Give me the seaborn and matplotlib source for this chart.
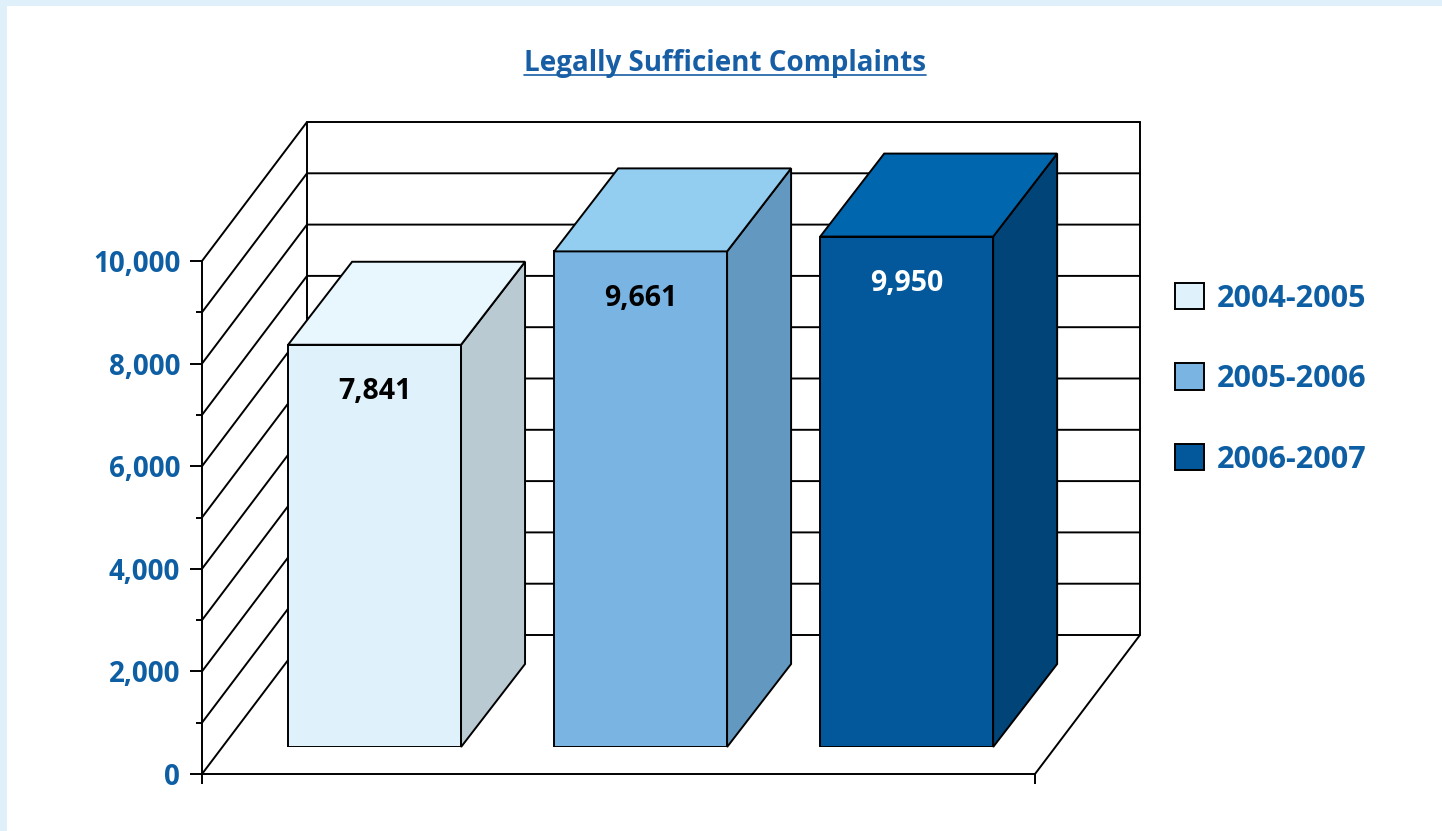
import pandas as pd
import seaborn as sns
import matplotlib.pyplot as plt
import matplotlib.patches as mpatches
from matplotlib.lines import Line2D

# values
periods = ['2004-2005', '2005-2006', '2006-2007']
complaints = [7841, 9661, 9950]
label_colors = ['black', 'black', 'white']

front_colors = ['#dff1fb', '#7ab4e2', '#03589b']
side_colors = ['#b9cad3', '#6399c0', '#014478']
top_colors = ['#e8f6fd', '#93cdf0', '#0066ae']

ytick_values = [0, 2000, 4000, 6000, 8000, 10000]
ytick_labels = ['0', '2,000', '4,000', '6,000', '8,000', '10,000']

title = 'Legally Sufficient Complaints'
blue_text = '#0d5ea3'

sns.set_style('white')
plt.rcParams['font.family'] = ['Open Sans', 'DejaVu Sans']

W, H = 1442, 831
fig = plt.figure(figsize=(W / 100, H / 100), dpi=100)
fig.patch.set_facecolor('#dff0fb')
fig.add_artist(mpatches.Rectangle((7 / W, 0), 1, 1 - 6 / H, transform=fig.transFigure,
                                  facecolor='white', edgecolor='none', zorder=-1))

# front plane of the box and the plane the bars stand on
x_lo, x_hi = -0.572, 2.559
ax = fig.add_axes([202 / W, 1 - 774 / H, 833 / W, 513 / H])
ax_bar = fig.add_axes([222.4 / W, 1 - 747 / H, 833 / W, 513 / H])
px_x = 833 / (x_hi - x_lo)
px_y = 513 / 10000
lw = 1.4

ax.set_facecolor('none')
ax.set_xlim(x_lo, x_hi)
ax.set_ylim(0, 10000)
for s in ['top', 'right']:
    ax.spines[s].set_visible(False)
for s in ['left', 'bottom']:
    ax.spines[s].set_linewidth(lw)
    ax.spines[s].set_color('black')
ax.set_yticks(ytick_values, ytick_labels)
ax.set_yticks(range(1000, 10000, 2000), minor=True)
ax.set_xticks([x_lo, x_hi], ['', ''])
ax.tick_params(left=True, bottom=True, which='both', color='black')
ax.tick_params(axis='y', which='major', direction='out', length=8.6, width=lw, pad=7,
               labelsize=20, labelcolor=blue_text)
ax.tick_params(axis='y', which='minor', direction='out', length=4.3, width=lw)
ax.tick_params(axis='x', direction='out', length=7, width=lw)
for lab in ax.get_yticklabels():
    lab.set_fontweight('bold')

# left wall, back wall and floor
fdx = 105 / px_x
fdy = 139 / px_y
for v in range(0, 10001, 1000):
    ax.plot([x_lo, x_lo + fdx, x_hi + fdx], [v, v + fdy, v + fdy], color='black', lw=lw, clip_on=False)
ax.plot([x_lo + fdx, x_lo + fdx], [fdy, 10000 + fdy], color='black', lw=lw, clip_on=False)
ax.plot([x_hi, x_hi + fdx, x_hi + fdx], [0, fdy, 10000 + fdy], color='black', lw=lw, clip_on=False)

# bars
df = pd.DataFrame({'Period': periods, 'Complaints': complaints})
sns.barplot(data=df, x='Period', y='Complaints', hue='Period', palette=front_colors,
            saturation=1, width=0.65, edgecolor='black', linewidth=lw, legend=False, ax=ax_bar)
ax_bar.set_xlim(x_lo, x_hi)
ax_bar.set_ylim(0, 10000)
ax_bar.axis('off')

bdx = 64 / px_x
bdy = 83 / px_y
bars = list(ax_bar.patches)
for i, bar in enumerate(bars):
    x, w, h = bar.get_x(), bar.get_width(), bar.get_height()
    side = mpatches.Polygon([(x + w, 0), (x + w + bdx, bdy), (x + w + bdx, h + bdy), (x + w, h)],
                            closed=True, facecolor=side_colors[i], edgecolor='black', lw=lw, clip_on=False)
    top = mpatches.Polygon([(x, h), (x + w, h), (x + w + bdx, h + bdy), (x + bdx, h + bdy)],
                           closed=True, facecolor=top_colors[i], edgecolor='black', lw=lw, clip_on=False)
    ax_bar.add_patch(side)
    ax_bar.add_patch(top)
    ax_bar.annotate(f'{int(h):,}', xy=(x + w / 2, h), xytext=(0, -47 * 0.72), textcoords='offset points',
                    ha='center', va='center', fontsize=20.5, fontweight='bold', color=label_colors[i])

# legend
handles = [mpatches.Patch(facecolor=c, edgecolor='black', linewidth=lw, label=p)
           for p, c in zip(periods, front_colors)]
fig.legend(handles=handles, loc='upper left', bbox_to_anchor=(1175 / W, 1 - 283 / H), frameon=False,
           prop={'size': 22, 'weight': 'bold'}, labelcolor=blue_text, handlelength=0.95,
           handleheight=0.95, handletextpad=0.42, labelspacing=1.63, borderpad=0, borderaxespad=0)

# underlined title
t = fig.text(725 / W, 1 - 71 / H, title, ha='center', va='baseline', fontsize=20,
             fontweight='bold', color='#175ea5')
fig.canvas.draw()
bb = t.get_window_extent()
fig.add_artist(Line2D([bb.x0 / W, bb.x1 / W], [1 - 75 / H, 1 - 75 / H], transform=fig.transFigure,
                      color='#175ea5', lw=1.2))

fig.savefig('out.png', dpi=100)
